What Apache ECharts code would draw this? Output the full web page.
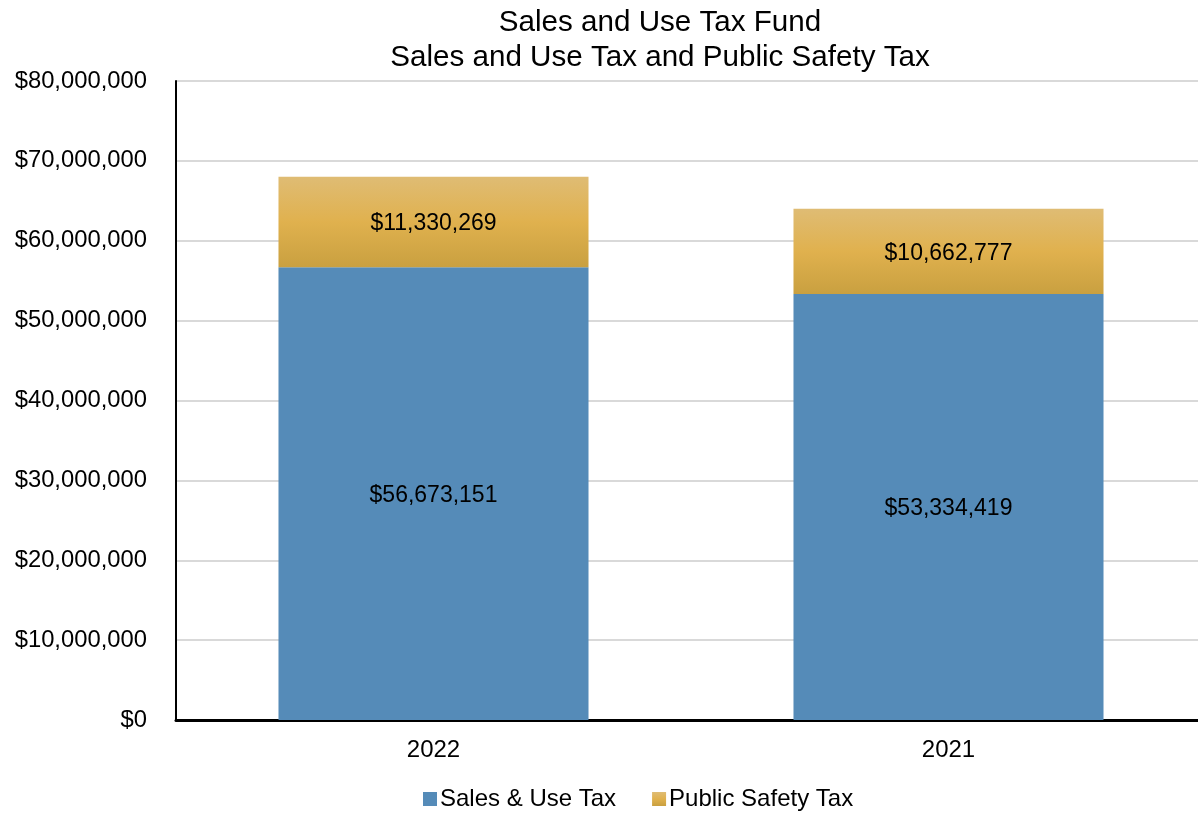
<!DOCTYPE html>
<html>
<head>
<meta charset="utf-8">
<script src="https://cdn.jsdelivr.net/npm/echarts@6/dist/echarts.min.js"></script>
<style>html,body{margin:0;padding:0;background:#fff;overflow:hidden;width:1198px;height:814px}#c{width:1206px;height:814px}</style>
</head>
<body>
<div id="c"></div>
<script>
const categories = ['2022', '2021'];
const salesUseTax = [56673151, 53334419];
const publicSafetyTax = [11330269, 10662777];
const yTicks = [0, 10000000, 20000000, 30000000, 40000000, 50000000, 60000000, 70000000, 80000000];

const fmt = v => '$' + Math.round(v).toLocaleString('en-US');
const FONT = 'Liberation Sans, Arial, sans-serif';

const chart = echarts.init(document.getElementById('c'));
chart.setOption({
  animation: false,
  backgroundColor: '#fff',
  textStyle: { fontFamily: FONT },
  title: {
    text: 'Sales and Use Tax Fund\nSales and Use Tax and Public Safety Tax',
    left: 655, top: 0, textAlign: 'center',
    textStyle: { fontFamily: FONT, fontSize: 29.6, fontWeight: 'normal', color: '#000', lineHeight: 35 }
  },
  legend: {
    bottom: 0, left: 418, padding: [7, 5, 3, 5],
    itemWidth: 14, itemHeight: 14, itemGap: 36,
    icon: 'rect',
    textStyle: { fontFamily: FONT, fontSize: 24, color: '#000', padding: [0, 0, 0, -2] },
    data: ['Sales & Use Tax', 'Public Safety Tax']
  },
  grid: { left: 176, right: 0, top: 81, bottom: 94, containLabel: false },
  xAxis: {
    type: 'category', data: categories,
    axisLine: { lineStyle: { color: '#000', width: 3 } },
    axisTick: { show: false },
    axisLabel: { fontFamily: FONT, fontSize: 24, color: '#000', margin: 18 }
  },
  yAxis: {
    type: 'value', min: yTicks[0], max: yTicks[yTicks.length - 1], interval: yTicks[1] - yTicks[0],
    axisLine: { show: true, lineStyle: { color: '#000', width: 2 } },
    axisTick: { show: false },
    splitLine: { lineStyle: { color: '#d9d9d9', width: 2 } },
    axisLabel: { fontFamily: FONT, fontSize: 23.8, color: '#000', margin: 29, formatter: fmt }
  },
  series: [
    {
      name: 'Sales & Use Tax', type: 'bar', stack: 'a', data: salesUseTax,
      barWidth: '60.2%',
      itemStyle: { color: '#558bb8' },
      label: { show: true, position: 'inside', offset: [0, 2], formatter: p => fmt(p.value), fontFamily: FONT, fontSize: 23, color: '#000' }
    },
    {
      name: 'Public Safety Tax', type: 'bar', stack: 'a', data: publicSafetyTax,
      barWidth: '60.2%',
      itemStyle: {
        color: new echarts.graphic.LinearGradient(0, 0, 0, 1, [
          { offset: 0, color: '#dfbc74' },
          { offset: 0.5, color: '#e0b14e' },
          { offset: 1, color: '#c9a040' }
        ])
      },
      label: { show: true, position: 'inside', offset: [0, 2], formatter: p => fmt(p.value), fontFamily: FONT, fontSize: 23, color: '#000' }
    }
  ]
});
</script>
</body>
</html>
